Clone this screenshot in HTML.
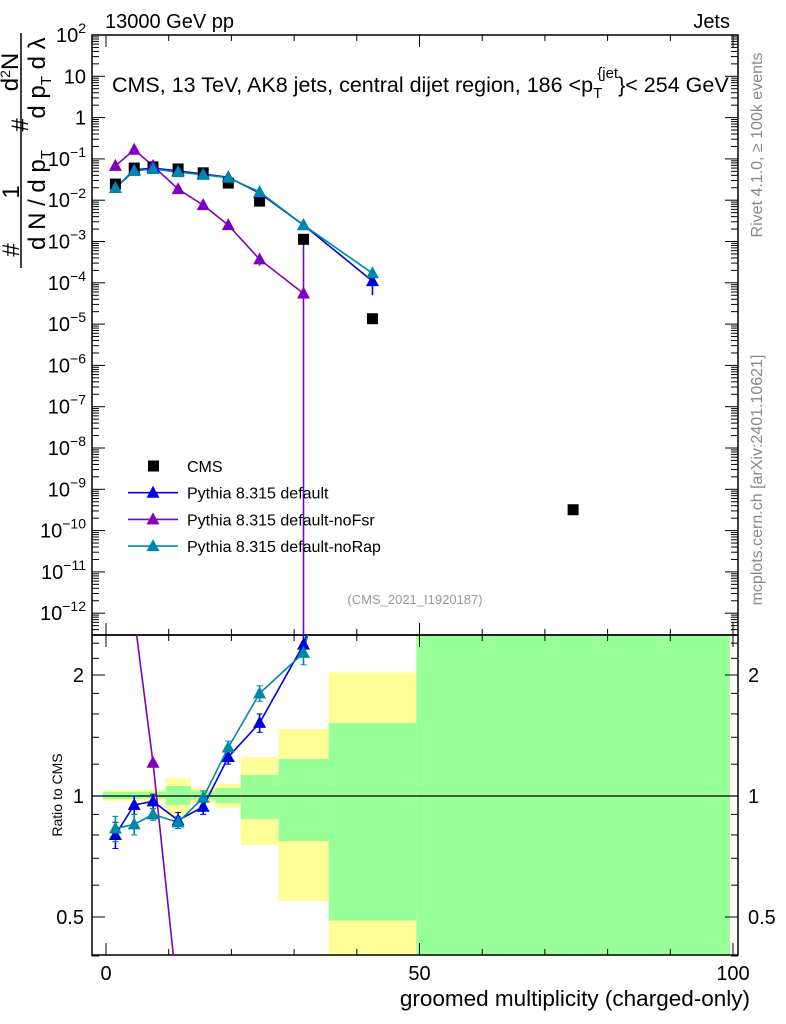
<!DOCTYPE html>
<html><head><meta charset="utf-8"><style>
html,body{margin:0;padding:0;background:#fff;}
svg{display:block;font-family:"Liberation Sans",sans-serif;}
</style></head><body>
<svg id="chart" width="786" height="1024" viewBox="0 0 786 1024" xmlns="http://www.w3.org/2000/svg">
<g id="bands"></g>
<g id="grid"></g>
<g id="series"></g>
<text x="105" y="28" font-size="20">13000 GeV pp</text>
<text x="730" y="28" font-size="20" text-anchor="end">Jets</text>
<text x="112" y="92" font-size="21.5">CMS, 13 TeV, AK8 jets, central dijet region, 186 &lt;p<tspan font-size="15" dy="6">T</tspan><tspan font-size="15" dy="-20" dx="-5">{jet</tspan><tspan dy="14">}&lt; 254 GeV</tspan></text>
<text x="415" y="604" font-size="13" fill="#999" text-anchor="middle">(CMS_2021_I1920187)</text>
<text x="750" y="1006" font-size="22.5" text-anchor="end">groomed multiplicity (charged-only)</text>
<text transform="translate(62,795) rotate(-90)" font-size="14" text-anchor="middle">Ratio to CMS</text>
<text transform="translate(762,145) rotate(-90)" font-size="16" fill="#888" text-anchor="middle">Rivet 4.1.0, ≥ 100k events</text>
<text transform="translate(762,480) rotate(-90)" font-size="16" fill="#888" text-anchor="middle">mcplots.cern.ch [arXiv:2401.10621]</text>
<g font-size="24">
<line x1="21" y1="33" x2="21" y2="268" stroke="#000" stroke-width="1.5"/>
<text transform="translate(19,250) rotate(-90)" text-anchor="middle">#</text>
<text transform="translate(19,192) rotate(-90)" text-anchor="middle">1</text>
<text transform="translate(18,72) rotate(-90)" text-anchor="middle">d<tspan font-size="14" dy="-8">2</tspan><tspan dy="8">N</tspan></text>
<text transform="translate(45,200) rotate(-90)" text-anchor="middle">d N / d p<tspan font-size="15" dy="6">T</tspan></text>
<text transform="translate(28,125) rotate(-90)" text-anchor="middle">#</text>
<text transform="translate(45,78) rotate(-90)" text-anchor="middle">d p<tspan font-size="15" dy="6">T</tspan><tspan dy="-6"> d λ</tspan></text>
</g>
<g id="legend"></g>
</svg>
<script>
const edges=[-0.5,3.5,5.5,9.5,13.5,17.5,21.5,27.5,35.5,49.5,99.5];
const xcent=[1.5,4.5,7.5,11.5,15.5,19.5,24.5,31.5,42.5,74.5];
const cmsVals=[0.0246,0.060,0.064,0.057,0.046,0.026,0.0095,0.00113,1.35e-5,3.2e-10];
const defVals=[0.0197,0.054,0.060,0.051,0.043,0.036,0.0149,0.0025,1.1e-4];
const noFsrVals=[0.068,0.166,0.068,0.0186,0.0076,0.0025,3.7e-4,5.5e-5];
const noRapVals=[0.0197,0.051,0.057,0.048,0.041,0.035,0.0158,0.0025,1.7e-4];
const defRatio=[0.80,0.95,0.97,0.87,0.94,1.25,1.52,2.38,8.1];
const noFsrRatio=[3.5,2.8,1.21,0.31];
const noRapRatio=[0.83,0.85,0.90,0.86,0.99,1.32,1.80,2.27,12.6];
const defRatioErr=[0.06,0.05,0.04,0.04,0.04,0.05,0.08,0.15];
const noRapRatioErr=[0.06,0.05,0.03,0.03,0.04,0.05,0.08,0.15];
const yellowHi=[1.035,1.035,1.04,1.108,1.047,1.071,1.25,1.467,2.03,10];
const yellowLo=[0.972,0.972,0.97,0.887,0.961,0.934,0.755,0.548,0.10,0.1];
const greenHi=[1.023,1.023,1.025,1.059,1.03,1.047,1.128,1.236,1.52,10];
const greenLo=[0.983,0.983,0.985,0.950,0.98,0.961,0.877,0.773,0.49,0.1];
const xTicks=[0,50,100];
const mainTickExp=[2,1,0,-1,-2,-3,-4,-5,-6,-7,-8,-9,-10,-11,-12];
const ratioTicks=[0.5,1,2];

const NS="http://www.w3.org/2000/svg";
const L=92,R=738,T=35,MB=635,RB=955;
const xs=v=>106+v*6.27;
const ym=v=>T+(2-Math.log10(v))*41.3;
const yr=r=>796-Math.log10(r)*402;
function mk(tag,at,parent){const e=document.createElementNS(NS,tag);for(const k in at)e.setAttribute(k,at[k]);parent.appendChild(e);return e;}
const bands=document.getElementById('bands'),grid=document.getElementById('grid'),ser=document.getElementById('series'),leg=document.getElementById('legend');
const clampR=y=>Math.max(MB,Math.min(RB,y));
for(let i=0;i<edges.length-1;i++){
 const x1=xs(edges[i]),x2=Math.min(xs(edges[i+1]),R);
 let a=clampR(yr(yellowHi[i])),b=clampR(yr(yellowLo[i]));
 let e=mk('rect',{x:x1,y:a,width:x2-x1,height:b-a,fill:'#ffff99'},bands);
 
 
 a=clampR(yr(greenHi[i]));b=clampR(yr(greenLo[i]));
 e=mk('rect',{x:x1,y:a,width:x2-x1,height:b-a,fill:'#99ff99'},bands);
 
 
}
mk('rect',{x:L,y:T,width:R-L,height:MB-T,fill:'none',stroke:'#000','stroke-width':1.5},grid);
mk('rect',{x:L,y:MB,width:R-L,height:RB-MB,fill:'none',stroke:'#000','stroke-width':1.5},grid);
mk('line',{x1:L,x2:R,y1:yr(1),y2:yr(1),stroke:'#000','stroke-width':1.3},grid);
for(let v=0;v<=100;v+=10){const maj=v%50===0,x=xs(v),len=maj?12:6;
 for(const [y0,d] of [[T,1],[MB,-1],[MB,1],[RB,-1]]) mk('line',{x1:x,x2:x,y1:y0,y2:y0+d*len,stroke:'#000'},grid);}
for(const v of xTicks){const t=mk('text',{x:xs(v),y:980,'font-size':20,'text-anchor':'middle'},grid);t.textContent=v;
 
 }
for(let e=-13;e<=2;e++){for(let m=1;m<10;m++){const v=m*Math.pow(10,e);const y=ym(v);if(y<T-0.5||y>MB)continue;const len=m===1?13:7;
 mk('line',{x1:L,x2:L+len,y1:y,y2:y,stroke:'#000'},grid);mk('line',{x1:R,x2:R-len,y1:y,y2:y,stroke:'#000'},grid);}}
for(const e of mainTickExp){const y=ym(Math.pow(10,e))+7;const t=mk('text',{x:86,y:y,'font-size':20,'text-anchor':'end'},grid);
 if(e===0)t.textContent='1';else if(e===1)t.textContent='10';else{t.textContent='10';const s=mk('tspan',{dy:-9,'font-size':14},t);s.textContent=e<0?'\u2212'+(-e):e;}
 
 }
const rminor=[0.4,0.6,0.7,0.8,0.9,1.2,1.4,1.6,1.8,2.2,2.4];
for(const r of rminor){const y=yr(r);mk('line',{x1:L,x2:L+7,y1:y,y2:y,stroke:'#000'},grid);mk('line',{x1:R,x2:R-7,y1:y,y2:y,stroke:'#000'},grid);}
for(const r of ratioTicks){const y=yr(r);mk('line',{x1:L,x2:L+13,y1:y,y2:y,stroke:'#000'},grid);mk('line',{x1:R,x2:R-13,y1:y,y2:y,stroke:'#000'},grid);
 let t=mk('text',{x:84,y:y+7,'font-size':20,'text-anchor':'end'},grid);t.textContent=r;
 
 
 t=mk('text',{x:748,y:y+7,'font-size':20},grid);t.textContent=r;
 
 }
function tri(x,y,c,p,name){const e=mk('path',{d:`M${x},${y-7}L${x+6.5},${y+5}L${x-6.5},${y+5}Z`,fill:c},p);
 
 }
const svgEl=document.getElementById('chart');
const defs=mk('defs',{},svgEl);
const c1=mk('clipPath',{id:'cm'},defs);mk('rect',{x:L,y:T,width:R-L,height:MB-T},c1);
const c2=mk('clipPath',{id:'cr'},defs);mk('rect',{x:L,y:MB,width:R-L,height:RB-MB},c2);
const gm=mk('g',{'clip-path':'url(#cm)'},ser),gr=mk('g',{'clip-path':'url(#cr)'},ser);
function line(vals,fy,c,p,name){const pts=vals.map((v,i)=>xs(xcent[i])+','+fy(v)).join(' ');const e=mk('polyline',{points:pts,fill:'none',stroke:c,'stroke-width':1.6},p);
 
 }
const cols={def:'#0000dd',fsr:'#7f00bf',rap:'#0088aa'};
line(defVals,ym,cols.def,gm,'default-line');
line(noRapVals,ym,cols.rap,gm,'norap-line');
line(noFsrVals,ym,cols.fsr,gm,'nofsr-line');
mk('line',{x1:xs(24.5),x2:xs(24.5),y1:ym(5e-4),y2:ym(2.6e-4),stroke:cols.fsr,'stroke-width':1.6},gm);
mk('line',{x1:xs(31.5),x2:xs(31.5),y1:ym(1.1e-3),y2:MB,stroke:cols.fsr,'stroke-width':1.6},gm);
mk('line',{x1:xs(42.5),x2:xs(42.5),y1:ym(1.6e-4),y2:ym(5e-5),stroke:cols.def,'stroke-width':1.6},gm);
mk('line',{x1:xs(42.5),x2:xs(42.5),y1:ym(2.2e-4),y2:ym(1.3e-4),stroke:cols.rap,'stroke-width':1.6},gm);
mk('line',{x1:xs(31.5),x2:xs(31.5),y1:MB,y2:yr(2.52),stroke:cols.fsr,'stroke-width':1.6},gr);
cmsVals.forEach((v,i)=>{const e=mk('rect',{x:xs(xcent[i])-5.5,y:ym(v)-5.5,width:11,height:11,fill:'#000'},gm);
 
 });
noFsrVals.forEach((v,i)=>tri(xs(xcent[i]),ym(v),cols.fsr,gm,'nofsr-point'));
defVals.forEach((v,i)=>tri(xs(xcent[i]),ym(v),cols.def,gm,'default-point'));
noRapVals.forEach((v,i)=>tri(xs(xcent[i]),ym(v),cols.rap,gm,'norap-point'));
line(noFsrRatio,yr,cols.fsr,gr,'nofsr-ratio-line');
line(defRatio,yr,cols.def,gr,'default-ratio-line');
line(noRapRatio,yr,cols.rap,gr,'norap-ratio-line');
function errBar(x,r,e,c){mk('line',{x1:x,x2:x,y1:yr(r+e),y2:yr(r-e),stroke:c,'stroke-width':1.6},gr);mk('line',{x1:x-3,x2:x+3,y1:yr(r+e),y2:yr(r+e),stroke:c},gr);mk('line',{x1:x-3,x2:x+3,y1:yr(r-e),y2:yr(r-e),stroke:c},gr);}
defRatioErr.forEach((e,i)=>errBar(xs(xcent[i]),defRatio[i],e,cols.def));
noRapRatioErr.forEach((e,i)=>errBar(xs(xcent[i]),noRapRatio[i],e,cols.rap));
noFsrRatio.forEach((v,i)=>tri(xs(xcent[i]),yr(v),cols.fsr,gr,'nofsr-ratio-point'));
defRatio.forEach((v,i)=>tri(xs(xcent[i]),yr(v),cols.def,gr,'default-ratio-point'));
noRapRatio.forEach((v,i)=>tri(xs(xcent[i]),yr(v),cols.rap,gr,'norap-ratio-point'));
const legItems=[['CMS','#000'],['Pythia 8.315 default',cols.def],['Pythia 8.315 default-noFsr',cols.fsr],['Pythia 8.315 default-noRap',cols.rap]];
legItems.forEach(([lab,c],i)=>{const y=466+i*26.7;
 if(i===0){const e=mk('rect',{x:148,y:y-5.5,width:11,height:11,fill:'#000'},leg);
  
  }
 else{mk('line',{x1:128,x2:178,y1:y,y2:y,stroke:c,'stroke-width':1.6},leg);tri(153,y,c,leg,'legend-marker');}
 const t=mk('text',{x:187,y:y+6,'font-size':16},leg);t.textContent=lab;
 
 });
</script>
</body></html>
